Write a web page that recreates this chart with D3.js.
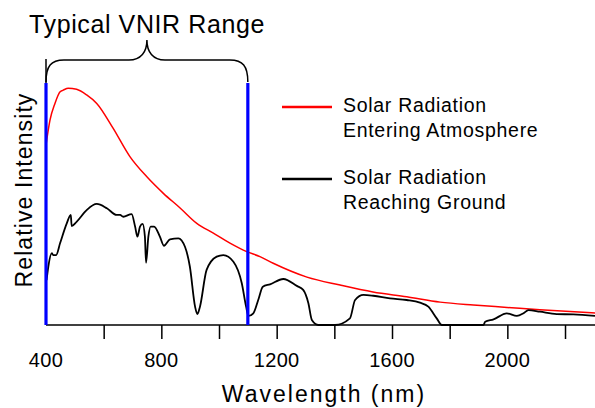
<!DOCTYPE html>
<html>
<head>
<meta charset="utf-8">
<script src="https://cdn.jsdelivr.net/npm/d3@7"></script>
<style>
  body { margin: 0; background: #fff; }
  text { font-family: "Liberation Sans", Arial, sans-serif; fill: #000; }
</style>
</head>
<body>
<div class="container"></div>
<script>
// wavelength (nm) / relative intensity
const redNm  = [400, 414, 431, 449, 460, 477, 506, 541, 576, 632, 691, 749, 807, 865, 923, 979, 1038, 1096, 1142, 1188, 1305, 1420, 1534, 1651, 1767, 1882, 1999, 2113, 2304];
const redVal = [67.7, 77.1, 83.3, 87.7, 88.3, 89.0, 88.6, 86.5, 83.3, 74.1, 63.3, 55.8, 49.5, 44.0, 38.2, 34.6, 30.8, 27.6, 25.7, 23.2, 18.0, 15.0, 12.4, 10.6, 8.6, 7.5, 6.6, 5.7, 4.5];

const blackNm  = [402, 408, 420, 425, 435, 449, 472, 486, 489, 506, 541, 576, 611, 645, 657, 668, 697, 709, 717, 726, 735, 743, 747, 755, 763, 775, 795, 809, 830, 859, 882, 899, 917, 925, 934, 957, 992, 1015, 1050, 1079, 1094, 1102, 1119, 1136, 1152, 1177, 1223, 1270, 1292, 1310, 1322, 1345, 1402, 1454, 1472, 1501, 1535, 1593, 1651, 1697, 1726, 1755, 1773, 1917, 1923, 1952, 1998, 2033, 2056, 2073, 2113, 2171, 2229, 2304];
const blackVal = [16.9, 21.9, 27.0, 26.3, 26.3, 30.8, 38.2, 41.4, 37.2, 38.8, 43.2, 45.5, 43.9, 41.4, 41.4, 40.7, 41.7, 37.0, 33.2, 37.0, 38.0, 33.2, 23.4, 33.2, 37.0, 37.0, 33.2, 29.8, 32.2, 32.6, 29.4, 21.9, 6.9, 4.1, 6.9, 20.7, 25.7, 26.3, 23.8, 15.7, 6.9, 3.4, 4.4, 9.4, 14.4, 15.3, 17.3, 14.7, 13.2, 8.2, 1.9, 0, 0, 2.5, 9.4, 11.3, 11.0, 10.0, 9.4, 8.4, 6.9, 2.5, 0, 0, 1.2, 2.1, 4.4, 3.4, 4.4, 5.6, 5.0, 4.1, 4.0, 3.4];

const vnirRange = [400, 1100];
const tickValues = [600, 800, 1000, 1200, 1400, 1600, 1800, 2000, 2200];
const tickLabels = [400, 800, 1200, 1600, 2000];

const legendItems = [
  { color: '#ff0000', lines: ['Solar Radiation', 'Entering Atmosphere'] },
  { color: '#000000', lines: ['Solar Radiation', 'Reaching Ground'] }
];

let width = 595, height = 408,
    x0 = 46, x1 = 595, yBase = 325, yTop = 59;

let svg = d3.select('.container')
            .append('svg')
            .attr('width', width)
            .attr('height', height);

let xScale = d3.scaleLinear()
               .domain([400, 2304])
               .range([x0, x1]);

let yScale = d3.scaleLinear()
               .domain([0, 100])
               .range([yBase, yTop]);

let line = d3.line()
             .x(d => xScale(d[0]))
             .y(d => yScale(d[1]))
             .curve(d3.curveMonotoneX);

// y axis line (mostly hidden by the blue marker)
svg.append('line')
   .attr('x1', x0).attr('x2', x0)
   .attr('y1', yTop).attr('y2', yBase)
   .attr('stroke', '#000').attr('stroke-width', 1.5);

// curves
svg.append('path')
   .datum(d3.zip(redNm, redVal))
   .attr('d', line)
   .attr('fill', 'none')
   .attr('stroke', '#ff0000')
   .attr('stroke-width', 1.5);

svg.append('path')
   .datum(d3.zip(blackNm, blackVal))
   .attr('d', line)
   .attr('fill', 'none')
   .attr('stroke', '#000')
   .attr('stroke-width', 1.8);

// x axis
let xAxis = d3.axisBottom(xScale)
              .tickValues(tickValues)
              .tickSize(14)
              .tickFormat('');

let gx = svg.append('g')
            .attr('transform', `translate(0, ${yBase})`)
            .call(xAxis);
gx.select('.domain').remove();
gx.selectAll('.tick line').attr('stroke', '#000').attr('stroke-width', 1.5);

svg.append('line')
   .attr('x1', x0).attr('x2', x1)
   .attr('y1', yBase).attr('y2', yBase)
   .attr('stroke', '#000').attr('stroke-width', 1.5);

svg.selectAll('.xlabel')
   .data(tickLabels)
   .enter()
   .append('text')
   .attr('class', 'xlabel')
   .attr('x', d => xScale(d))
   .attr('y', 366.5)
   .style('font-size', '20px')
   .style('letter-spacing', '0.3px')
   .style('text-anchor', 'middle')
   .text(d => d);

// VNIR markers
svg.selectAll('.vnir')
   .data(vnirRange)
   .enter()
   .append('line')
   .attr('class', 'vnir')
   .attr('x1', d => xScale(d)).attr('x2', d => xScale(d))
   .attr('y1', 83).attr('y2', yBase)
   .attr('stroke', '#0000ff')
   .attr('stroke-width', 3.2);

// curly brace over the range
let bl = xScale(vnirRange[0]), br = xScale(vnirRange[1]), bm = (bl + br) / 2;
let brace = d3.path();
brace.moveTo(bl, 82);
brace.bezierCurveTo(bl, 66, bl + 5, 60, bl + 18, 60);
brace.lineTo(bm - 18, 60);
brace.bezierCurveTo(bm - 6, 60, bm, 52, bm, 40);
brace.bezierCurveTo(bm, 52, bm + 6, 60, bm + 18, 60);
brace.lineTo(br - 18, 60);
brace.bezierCurveTo(br - 5, 60, br, 66, br, 82);
svg.append('path')
   .attr('d', brace.toString())
   .attr('fill', 'none')
   .attr('stroke', '#000')
   .attr('stroke-width', 1.5);

svg.append('text')
   .attr('x', 147)
   .attr('y', 33.3)
   .style('font-size', '25px')
   .style('letter-spacing', '0.6px')
   .style('text-anchor', 'middle')
   .text('Typical VNIR Range');

// axis titles
svg.append('text')
   .attr('x', 324)
   .attr('y', 401.7)
   .style('font-size', '23px')
   .style('letter-spacing', '2px')
   .style('text-anchor', 'middle')
   .text('Wavelength (nm)');

svg.append('text')
   .attr('transform', 'translate(31.5, 190) rotate(-90)')
   .style('font-size', '23px')
   .style('letter-spacing', '1.1px')
   .style('text-anchor', 'middle')
   .text('Relative Intensity');

// legend
let legend = svg.selectAll('.legend')
                .data(legendItems)
                .enter()
                .append('g')
                .attr('class', 'legend')
                .attr('transform', (d, i) => `translate(282, ${107 + i * 72})`);

legend.append('line')
      .attr('x1', 0).attr('x2', 50)
      .attr('y1', 0).attr('y2', 0)
      .attr('stroke', d => d.color)
      .attr('stroke-width', 2.6);

legend.each(function(d) {
  d3.select(this).selectAll('text')
    .data(d.lines)
    .enter()
    .append('text')
    .attr('x', 61)
    .attr('y', (t, j) => 5.3 + j * 24.5)
    .style('font-size', '19.5px')
    .style('letter-spacing', '0.7px')
    .text(t => t);
});
</script>
</body>
</html>
